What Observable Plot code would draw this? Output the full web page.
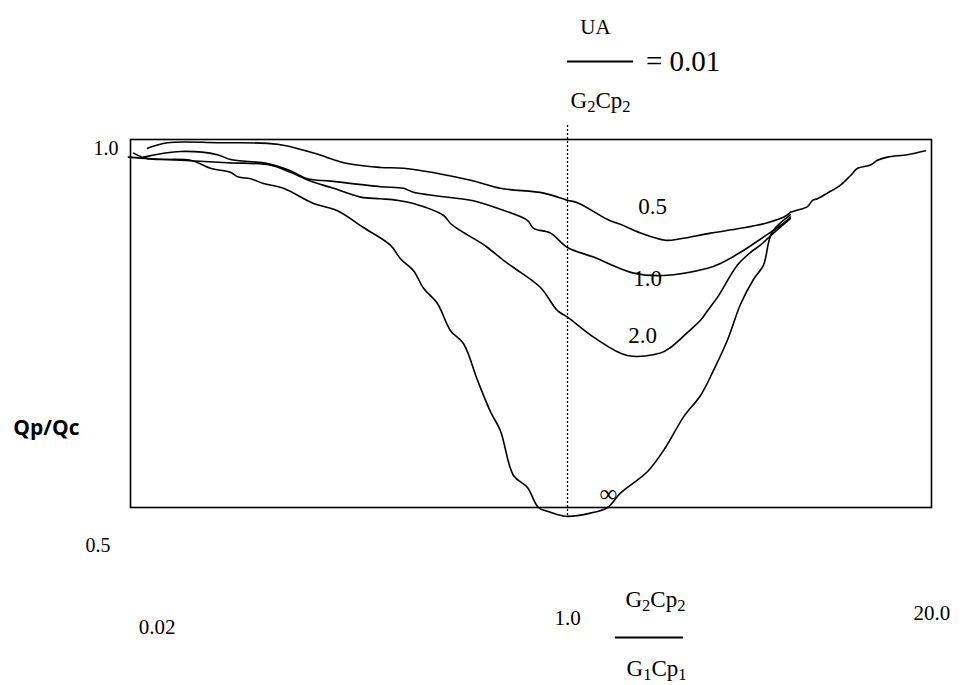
<!DOCTYPE html>
<html>
<head>
<meta charset="utf-8">
<script src="https://cdn.jsdelivr.net/npm/d3@7"></script>
<script src="https://cdn.jsdelivr.net/npm/@observablehq/plot@0.6"></script>
<style>
  html, body { margin: 0; padding: 0; background: #fff; }
  svg { display: block; }
</style>
</head>
<body>
<div id="chart"></div>
<script>
// x values: log10(G2Cp2 / G1Cp1); y values: Qp/Qc
const curve05 = [[-1.634,0.989],[-1.556,0.996],[-1.362,0.996],[-1.128,0.994],[-0.988,0.983],[-0.856,0.970],[-0.727,0.965],[-0.638,0.964],[-0.377,0.949],[-0.261,0.939],[-0.093,0.933],[0,0.924],[0.036,0.921],[0.143,0.900],[0.189,0.894],[0.261,0.883],[0.350,0.874],[0.404,0.876],[0.511,0.883],[0.618,0.889],[0.714,0.896],[0.778,0.904],[0.796,0.909]];
const curve10 = [[-1.649,0.978],[-1.505,0.985],[-1.362,0.981],[-1.311,0.975],[-1.167,0.970],[-1.078,0.961],[-1.011,0.951],[-0.922,0.948],[-0.727,0.941],[-0.638,0.939],[-0.599,0.934],[-0.377,0.924],[-0.338,0.921],[-0.272,0.914],[-0.156,0.899],[-0.132,0.889],[-0.066,0.883],[0,0.865],[0.093,0.853],[0.236,0.833],[0.343,0.830],[0.500,0.839],[0.546,0.845],[0.618,0.859],[0.725,0.884],[0.771,0.895],[0.796,0.903]];
const curve20 = [[-1.708,0.978],[-1.622,0.976],[-1.505,0.974],[-1.323,0.971],[-1.155,0.968],[-1.078,0.959],[-1.000,0.948],[-0.910,0.939],[-0.805,0.928],[-0.727,0.926],[-0.661,0.924],[-0.599,0.920],[-0.482,0.905],[-0.455,0.895],[-0.416,0.886],[-0.338,0.871],[-0.311,0.865],[-0.249,0.849],[-0.210,0.840],[-0.105,0.815],[-0.039,0.786],[0,0.778],[0.093,0.753],[0.214,0.730],[0.332,0.733],[0.368,0.740],[0.429,0.759],[0.475,0.774],[0.500,0.786],[0.536,0.803],[0.607,0.843],[0.654,0.859],[0.689,0.868],[0.736,0.883],[0.796,0.901]];
const curveInf = [[-1.688,0.983],[-1.634,0.976],[-1.467,0.974],[-1.389,0.964],[-1.311,0.959],[-1.280,0.953],[-1.233,0.951],[-1.183,0.945],[-1.105,0.939],[-0.988,0.920],[-0.895,0.911],[-0.794,0.890],[-0.689,0.868],[-0.650,0.851],[-0.599,0.836],[-0.560,0.814],[-0.506,0.795],[-0.455,0.761],[-0.405,0.745],[-0.350,0.699],[-0.300,0.660],[-0.261,0.636],[-0.210,0.580],[-0.156,0.565],[-0.113,0.540],[-0.066,0.534],[-0.008,0.529],[0.082,0.533],[0.143,0.540],[0.189,0.558],[0.286,0.585],[0.350,0.615],[0.414,0.653],[0.475,0.680],[0.521,0.711],[0.571,0.749],[0.618,0.794],[0.664,0.825],[0.700,0.843],[0.718,0.871],[0.732,0.885],[0.796,0.906]];
const curveTail = [[0.796,0.909],[0.814,0.911],[0.857,0.916],[0.875,0.924],[0.893,0.926],[0.928,0.933],[0.975,0.943],[1.011,0.955],[1.036,0.964],[1.082,0.968],[1.107,0.974],[1.143,0.978],[1.214,0.981],[1.278,0.986]];

const curveNames = ["0.5", "1.0", "2.0", "\u221E"];
const xTickValues = [0.02, 1.0, 20.0];
const xTickLabels = ["0.02", "1.0", "20.0"];
const yTickValues = [0.5, 1.0];
const yTickLabels = ["0.5", "1.0"];
const paramValue = 0.01;

const serif = "Liberation Serif, Times New Roman, serif";
const lx = Math.log10;
const lineOpts = {x: d => d[0], y: d => d[1], curve: "catmull-rom", stroke: "black", strokeWidth: 1.6};

const chart = Plot.plot({
  width: 963,
  height: 685,
  marginLeft: 130,
  marginRight: 32,
  marginTop: 139,
  marginBottom: 178,
  style: {background: "white", fontFamily: serif},
  x: {type: "linear", domain: [-1.7, 0, 1.3], range: [130, 567, 931], axis: null},
  y: {domain: [0.54, 1.0], axis: null},
  marks: [
    Plot.frame({stroke: "black", strokeWidth: 1.6}),
    Plot.ruleX([lx(1.0)], {y1: 1.0175, y2: 0.5275, stroke: "black", strokeWidth: 1.3, strokeDasharray: "2,2"}),
    Plot.line(curve05, lineOpts),
    Plot.line(curve10, lineOpts),
    Plot.line(curve20, lineOpts),
    Plot.line(curveInf, lineOpts),
    Plot.line(curveTail, lineOpts),
    // curve labels
    Plot.text(curveNames.slice(0, 3), {x: [0.304, 0.286, 0.268], y: [0.916, 0.826, 0.755], text: d => d, fontSize: 23, fill: "black"}),
    Plot.text([curveNames[3]], {x: [0.146], y: [0.5575], text: d => d, fontSize: 25, fill: "black"}),
    // y tick labels
    Plot.text([yTickLabels[1]], {x: [-1.7], y: [yTickValues[1]], text: d => d, textAnchor: "end", dx: -12, dy: 9, fontSize: 20, fill: "black"}),
    Plot.text([yTickLabels[0]], {x: [-1.7], y: [yTickValues[0]], text: d => d, textAnchor: "end", dx: -20, dy: 6, fontSize: 20, fill: "black"}),
    // x tick labels
    Plot.text([xTickLabels[0]], {x: [lx(xTickValues[0])], y: [0.39], text: d => d, textAnchor: "start", dx: 8, fontSize: 21, fill: "black"}),
    Plot.text([xTickLabels[1]], {x: [lx(xTickValues[1])], y: [0.401], text: d => d, fontSize: 21, fill: "black"}),
    Plot.text([xTickLabels[2]], {x: [lx(xTickValues[2])], y: [0.4075], text: d => d, fontSize: 21, fill: "black"}),
    // y axis title
    Plot.text(["Qp/Qc"], {x: [-2.027], y: [0.639], text: d => d, fontFamily: "Open Sans, sans-serif", fontWeight: "bold", fontSize: 21, fill: "black"}),
    // x axis title (fraction)
    Plot.text(["G2Cp2"], {x: [0.314], y: [0.425], text: d => d, fontSize: 23, fill: "black"}),
    Plot.ruleY([0.3775], {x1: 0.171, x2: 0.414, stroke: "black", strokeWidth: 2}),
    Plot.text(["G1Cp1"], {x: [0.318], y: [0.338], text: d => d, fontSize: 23, fill: "black"}),
    // top parameter label
    Plot.text(["UA"], {x: [0.100], y: [1.14], text: d => d, fontSize: 21, fill: "black"}),
    Plot.ruleY([1.0975], {x1: 0, x2: 0.236, stroke: "black", strokeWidth: 2}),
    Plot.text(["= " + paramValue.toFixed(2)], {x: [0.280], y: [1.0975], text: d => d, textAnchor: "start", fontSize: 29, fill: "black"}),
    Plot.text(["G2Cp2"], {x: [0.118], y: [1.049], text: d => d, fontSize: 23, fill: "black"})
  ]
});

// render subscript digits in the fraction labels
d3.select(chart).selectAll("text").each(function () {
  const t = this.textContent;
  if (/^G\dCp\d$/.test(t)) {
    const sel = d3.select(this);
    sel.text(null);
    const parts = [["G", 0], [t[1], 1], ["Cp", 0], [t[4], 1]];
    let shifted = 0;
    for (const [s, sub] of parts) {
      const dy = sub ? 4 - shifted : -shifted;
      shifted = sub ? 4 : 0;
      sel.append("tspan").attr("dy", dy).attr("font-size", sub ? "72%" : null).text(s);
    }
  }
});
document.getElementById("chart").appendChild(chart);
</script>
</body>
</html>
